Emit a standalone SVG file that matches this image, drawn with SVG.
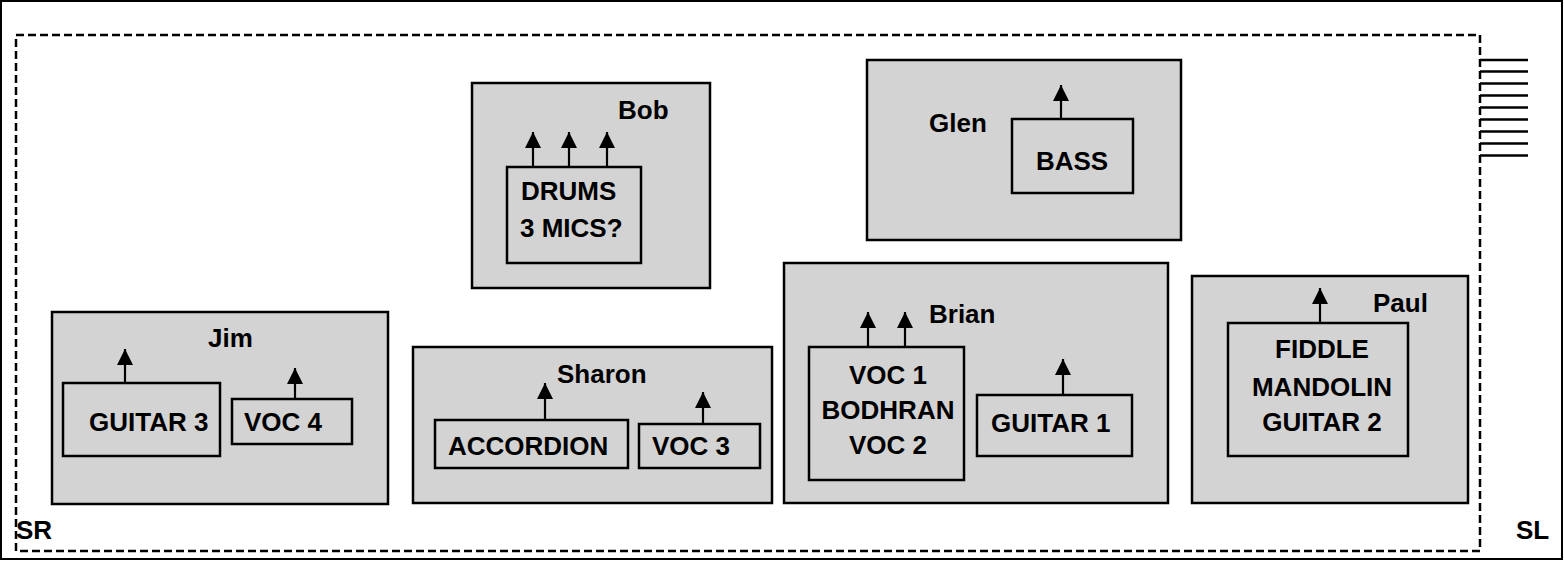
<svg xmlns="http://www.w3.org/2000/svg" width="1564" height="561" viewBox="0 0 1564 561">
<defs>
<style>
.area{fill:#d3d3d3;stroke:#000;stroke-width:2.5}
.inst{fill:none;stroke:#000;stroke-width:2.5}
.t{font-family:"Liberation Sans",Arial,sans-serif;font-weight:bold;font-size:26px;fill:#000}
.m{text-anchor:middle}
.mic{stroke:#000;stroke-width:2.2;fill:none;marker-end:url(#ah)}
</style>
<marker id="ah" markerUnits="userSpaceOnUse" markerWidth="16" markerHeight="16" viewBox="0 0 16 16" refX="16" refY="8" orient="auto">
<path d="M0,0 L16,8 L0,16 z" fill="#000"/>
</marker>
</defs>
<rect x="1" y="1" width="1561" height="558" fill="#fff" stroke="#000" stroke-width="2"/>
<g id="stage">
<rect x="16" y="35" width="1464" height="516" fill="none" stroke="#000" stroke-width="2.5" stroke-dasharray="8,4"/>
<g stroke="#000" stroke-width="2.5">
<line x1="1480" y1="60" x2="1528" y2="60"/>
<line x1="1480" y1="71.5" x2="1528" y2="71.5"/>
<line x1="1480" y1="83.5" x2="1528" y2="83.5"/>
<line x1="1480" y1="95.5" x2="1528" y2="95.5"/>
<line x1="1480" y1="107.5" x2="1528" y2="107.5"/>
<line x1="1480" y1="119.5" x2="1528" y2="119.5"/>
<line x1="1480" y1="131.5" x2="1528" y2="131.5"/>
<line x1="1480" y1="143.5" x2="1528" y2="143.5"/>
<line x1="1480" y1="155.5" x2="1528" y2="155.5"/>
</g>
<text class="t" x="16" y="539">SR</text>
<text class="t" x="1516" y="539">SL</text>
</g>
<g id="bob">
<rect class="area" x="472" y="83" width="238" height="205"/>
<text class="t" x="618" y="119">Bob</text>
<rect class="inst" x="507" y="167" width="134" height="96"/>
<text class="t" x="521" y="200">DRUMS</text>
<text class="t" x="520" y="237">3 MICS?</text>
</g>
<g id="glen">
<rect class="area" x="867" y="60" width="314" height="180"/>
<text class="t" x="929" y="132">Glen</text>
<rect class="inst" x="1012" y="119" width="121" height="74"/>
<text class="t m" x="1072" y="170">BASS</text>
</g>
<g id="jim">
<rect class="area" x="52" y="312" width="336" height="192"/>
<text class="t" x="208" y="347">Jim</text>
<rect class="inst" x="63" y="383" width="157" height="73"/>
<text class="t" x="89" y="431">GUITAR 3</text>
<rect class="inst" x="232" y="399" width="120" height="45"/>
<text class="t" x="244" y="431">VOC 4</text>
</g>
<g id="sharon">
<rect class="area" x="413" y="347" width="359" height="156"/>
<text class="t" x="557" y="383">Sharon</text>
<rect class="inst" x="435" y="420" width="193" height="48"/>
<text class="t" x="448" y="455">ACCORDION</text>
<rect class="inst" x="639" y="424" width="121" height="44"/>
<text class="t" x="652" y="455">VOC 3</text>
</g>
<g id="brian">
<rect class="area" x="784" y="263" width="384" height="240"/>
<text class="t" x="929" y="323">Brian</text>
<rect class="inst" x="809" y="347" width="155" height="133"/>
<text class="t m" x="888" y="384">VOC 1</text>
<text class="t m" x="888" y="419">BODHRAN</text>
<text class="t m" x="888" y="454">VOC 2</text>
<rect class="inst" x="977" y="395" width="155" height="61"/>
<text class="t" x="991" y="432">GUITAR 1</text>
</g>
<g id="paul">
<rect class="area" x="1192" y="276" width="276" height="227"/>
<text class="t" x="1373" y="312">Paul</text>
<rect class="inst" x="1228" y="323" width="180" height="133"/>
<text class="t m" x="1322" y="358">FIDDLE</text>
<text class="t m" x="1322" y="396">MANDOLIN</text>
<text class="t m" x="1322" y="431">GUITAR 2</text>
</g>
<g id="connectors">
<line class="mic" x1="533" y1="167" x2="533" y2="132"/>
<line class="mic" x1="569" y1="167" x2="569" y2="132"/>
<line class="mic" x1="607" y1="167" x2="607" y2="132"/>
<line class="mic" x1="1061" y1="119" x2="1061" y2="85"/>
<line class="mic" x1="125" y1="383" x2="125" y2="349"/>
<line class="mic" x1="295" y1="399" x2="295" y2="368"/>
<line class="mic" x1="545" y1="420" x2="545" y2="383"/>
<line class="mic" x1="703" y1="424" x2="703" y2="392"/>
<line class="mic" x1="868" y1="347" x2="868" y2="312"/>
<line class="mic" x1="905" y1="347" x2="905" y2="312"/>
<line class="mic" x1="1063" y1="395" x2="1063" y2="359"/>
<line class="mic" x1="1320" y1="323" x2="1320" y2="288"/>
</g>
</svg>
